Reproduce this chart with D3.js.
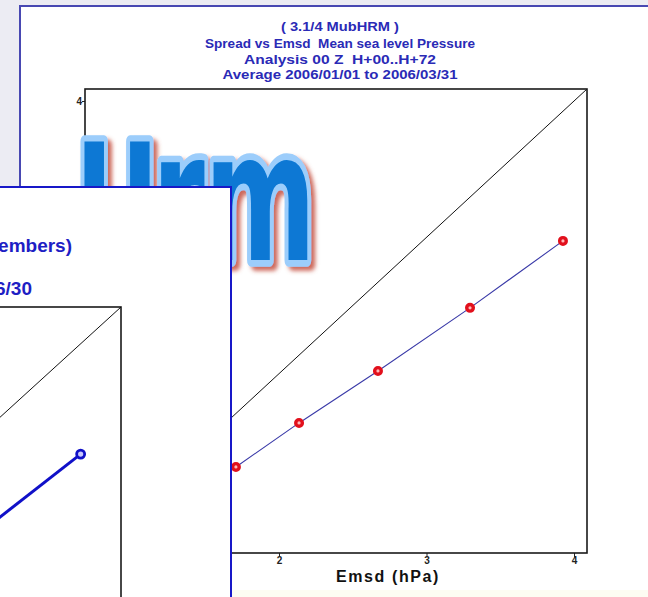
<!DOCTYPE html>
<html>
<head>
<meta charset="utf-8">
<script src="https://cdn.jsdelivr.net/npm/d3@7/dist/d3.min.js"></script>
<style>
  html, body { margin: 0; padding: 0; background: #ececf3; }
  svg { display: block; }
  text { font-family: "Liberation Sans", Arial, sans-serif; white-space: pre; }
</style>
</head>
<body>
<svg id="chart" width="648" height="597"></svg>
<script>
// ---------------- data ----------------
const titleLines = [
  "( 3.1/4 MubHRM )",
  "Spread vs Emsd  Mean sea level Pressure",
  "Analysis 00 Z  H+00..H+72",
  "Average 2006/01/01 to 2006/03/31"
];
const xLabel = "Emsd (hPa)";
const emsd   = [1.708, 2.136, 2.671, 3.295, 3.925];   // x values (hPa)
const spread = [1.316, 1.639, 2.020, 2.483, 2.974];   // y values (hPa)
const axisDomain = [0.685, 4.088];
const tickValues = [1, 2, 3, 4];
const tickLabels = ["1", "2", "3", "4"];

// inset (second slide, partly visible)
const insetTitleLines = ["members)", "2006/06/30"];
const insetEmsd   = [2.395, 3.72];
const insetSpread = [1.444, 2.58];
const insetDomain = [0.7, 4.1];

const logoText = ["U", "rm"];

// ---------------- drawing ----------------
const svg = d3.select("#chart");
const W = 648, H = 597;

const defs = svg.append("defs");
const shadow = defs.append("filter").attr("id", "logoShadow")
  .attr("x", "-20%").attr("y", "-20%").attr("width", "150%").attr("height", "150%");
shadow.append("feDropShadow").attr("dx", 4).attr("dy", 4).attr("stdDeviation", 2.2)
  .attr("flood-color", "#c4503f").attr("flood-opacity", 0.85);
defs.append("clipPath").attr("id", "insetClip")
  .append("rect").attr("x", 0).attr("y", 188).attr("width", 230).attr("height", 420);

// background
svg.append("rect").attr("x", 0).attr("y", 0).attr("width", W).attr("height", H).attr("fill", "#ececf3");
svg.append("rect").attr("x", 0).attr("y", 590).attr("width", W).attr("height", 10).attr("fill", "#fdfcf2");

// main panel (top and left borders visible)
svg.append("rect").attr("x", 20).attr("y", 6).attr("width", 660).attr("height", 584).attr("fill", "#ffffff");
svg.append("path").attr("d", "M20,590V6H660")
  .attr("fill", "none").attr("stroke", "#4848b2").attr("stroke-width", 2);

// main title
const titleWidths = [118, 270, 192, 235];
svg.append("g").selectAll("text").data(titleLines).join("text")
  .attr("x", 340).attr("y", (d, i) => [31, 47.5, 63.5, 79][i])
  .attr("text-anchor", "middle").attr("font-size", 13).attr("font-weight", "bold")
  .attr("textLength", (d, i) => titleWidths[i]).attr("lengthAdjust", "spacingAndGlyphs")
  .attr("fill", "#2a2ab6").text(d => d);

// main chart
const x = d3.scaleLinear().domain(axisDomain).range([85, 587]);
const y = d3.scaleLinear().domain(axisDomain).range([553, 89]);

const main = svg.append("g");
main.append("line")
  .attr("x1", x(axisDomain[0])).attr("y1", y(axisDomain[0]))
  .attr("x2", x(axisDomain[1])).attr("y2", y(axisDomain[1]))
  .attr("stroke", "#111").attr("stroke-width", 1);

const xAxis = main.append("g").attr("transform", `translate(0,${y(axisDomain[0])})`)
  .call(d3.axisBottom(x).tickValues(tickValues).tickFormat((d, i) => tickLabels[i]).tickSize(4).tickPadding(0));
const yAxis = main.append("g").attr("transform", `translate(${x(axisDomain[0])},0)`)
  .call(d3.axisLeft(y).tickValues(tickValues).tickFormat((d, i) => tickLabels[i]).tickSize(3).tickPadding(0));
[xAxis, yAxis].forEach(a => {
  a.select(".domain").remove();
  a.selectAll("line").attr("stroke", "#222");
  a.selectAll("text").attr("font-size", 10).attr("font-weight", "bold").attr("fill", "#222");
});

main.append("rect")
  .attr("x", x(axisDomain[0])).attr("y", y(axisDomain[1]))
  .attr("width", x(axisDomain[1]) - x(axisDomain[0]))
  .attr("height", y(axisDomain[0]) - y(axisDomain[1]))
  .attr("fill", "none").attr("stroke", "#1a1a1a").attr("stroke-width", 1.6);

const pts = emsd.map((v, i) => [v, spread[i]]);
main.append("path").datum(pts)
  .attr("d", d3.line().x(d => x(d[0])).y(d => y(d[1])))
  .attr("fill", "none").attr("stroke", "#3a3aa8").attr("stroke-width", 1.1);
main.append("g").selectAll("circle").data(pts).join("circle")
  .attr("cx", d => x(d[0])).attr("cy", d => y(d[1])).attr("r", 3.3)
  .attr("fill", "#ffb8b8").attr("stroke", "#e2101c").attr("stroke-width", 3.4);

main.append("text").attr("x", 388).attr("y", 582).attr("text-anchor", "middle")
  .attr("font-size", 16).attr("font-weight", "bold").attr("letter-spacing", 1.6)
  .attr("fill", "#111").text(xLabel);

// logo "Urm" — each part fitted into its box using the measured glyph ink
const logoFamily = "'DejaVu Sans'";
const logoBoxes = [
  { x0: 84, x1: 150, top: 141, base: 260 },
  { x0: 161, x1: 308, top: 160, base: 260 }
];
const ctx = document.createElement("canvas").getContext("2d");
const logo = svg.append("g").attr("filter", "url(#logoShadow)");
logoText.forEach((str, i) => {
  const fs = 160, b = logoBoxes[i];
  ctx.font = `bold ${fs}px ${logoFamily}`;
  const m = ctx.measureText(str);
  const inkW = m.actualBoundingBoxLeft + m.actualBoundingBoxRight;
  const sx = (b.x1 - b.x0) / inkW;
  const sy = (b.base - b.top) / m.actualBoundingBoxAscent;
  logo.append("g")
    .attr("transform", `translate(${b.x0 + sx * m.actualBoundingBoxLeft},${b.base}) scale(${sx},${sy})`)
    .append("text").attr("x", 0).attr("y", 0)
    .style("font-family", logoFamily).style("font-weight", "bold").style("font-size", fs + "px")
    .attr("fill", "#0a78d4").attr("stroke", "#9ccdfb").attr("stroke-width", 8 / sx)
    .attr("stroke-linejoin", "round").attr("paint-order", "stroke")
    .text(str);
});

// inset panel
svg.append("rect").attr("x", -10).attr("y", 187).attr("width", 241).attr("height", 430)
  .attr("fill", "#ffffff").attr("stroke", "#1818c8").attr("stroke-width", 2);

const inset = svg.append("g").attr("clip-path", "url(#insetClip)");
inset.selectAll("text.ititle").data(insetTitleLines).join("text")
  .attr("class", "ititle")
  .attr("x", (d, i) => [72, 32][i]).attr("y", (d, i) => [252, 295][i])
  .attr("text-anchor", "end").attr("font-size", 19).attr("font-weight", "bold")
  .attr("fill", "#1e1ec4").text(d => d);

const ix = d3.scaleLinear().domain(insetDomain).range([-240, 121]);
const iy = d3.scaleLinear().domain(insetDomain).range([636, 307]);
inset.append("rect")
  .attr("x", ix(insetDomain[0])).attr("y", iy(insetDomain[1]))
  .attr("width", ix(insetDomain[1]) - ix(insetDomain[0]))
  .attr("height", iy(insetDomain[0]) - iy(insetDomain[1]))
  .attr("fill", "none").attr("stroke", "#1a1a1a").attr("stroke-width", 1.6);
inset.append("line")
  .attr("x1", ix(insetDomain[0])).attr("y1", iy(insetDomain[0]))
  .attr("x2", ix(insetDomain[1])).attr("y2", iy(insetDomain[1]))
  .attr("stroke", "#111").attr("stroke-width", 1);
const ipts = insetEmsd.map((v, i) => [v, insetSpread[i]]);
inset.append("path").datum(ipts)
  .attr("d", d3.line().x(d => ix(d[0])).y(d => iy(d[1])))
  .attr("fill", "none").attr("stroke", "#1010c8").attr("stroke-width", 3);
inset.selectAll("circle").data(ipts).join("circle")
  .attr("cx", d => ix(d[0])).attr("cy", d => iy(d[1])).attr("r", 4)
  .attr("fill", "#c8c8ff").attr("stroke", "#1010c8").attr("stroke-width", 2.8);
</script>
</body>
</html>
